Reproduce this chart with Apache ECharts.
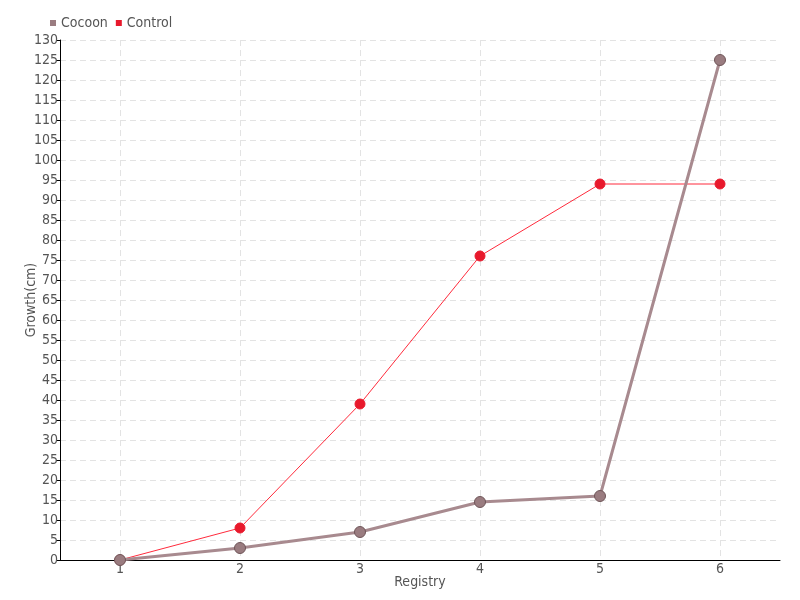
<!DOCTYPE html>
<html><head><meta charset="utf-8">
<script src="https://cdn.jsdelivr.net/npm/echarts@6/dist/echarts.min.js"></script>
<style>html,body{margin:0;padding:0;background:#fff}#c{width:800px;height:600px}</style>
</head><body><div id="c"></div>
<script>
const categories = ['1','2','3','4','5','6'];
const cocoon = [0, 3, 7, 14.5, 16, 125];
const control = [0, 8, 39, 76, 94, 94];
const FONT = '"DejaVu Sans Condensed","Liberation Sans Narrow",sans-serif';
const chart = echarts.init(document.getElementById('c'));
chart.setOption({
  animation: false,
  textStyle: {fontFamily: FONT},
  legend: {
    left: 45, top: 11, itemWidth: 6, itemHeight: 6, itemGap: 8,
    icon: 'rect',
    itemStyle: {borderWidth: 0},
    textStyle: {fontFamily: FONT, fontSize: 14, color: '#555'},
    data: ['Cocoon', 'Control']
  },
  grid: {left: 60, right: 20, top: 40, bottom: 40},
  xAxis: {
    type: 'category', data: categories,
    name: 'Registry', nameLocation: 'middle', nameGap: 15, nameMoveOverlap: false,
    nameTextStyle: {fontFamily: FONT, fontSize: 14, color: '#555'},
    axisLine: {lineStyle: {color: '#000'}},
    axisTick: {alignWithLabel: true, length: 4, lineStyle: {color: '#000'}},
    axisLabel: {fontFamily: FONT, fontSize: 14, color: '#555', margin: 2},
    splitLine: {show: true, alignWithLabel: true, lineStyle: {color: '#e3e3e3', type: [6, 4]}}
  },
  yAxis: {
    type: 'value', min: 0, max: 130, interval: 5,
    name: 'Growth(cm)', nameLocation: 'middle', nameGap: 22, nameMoveOverlap: false,
    nameTextStyle: {fontFamily: FONT, fontSize: 14, color: '#555'},
    axisLine: {show: true, lineStyle: {color: '#000'}},
    axisTick: {show: true, length: 4, lineStyle: {color: '#000'}},
    axisLabel: {fontFamily: FONT, fontSize: 14, color: '#555', margin: 2},
    splitLine: {show: true, lineStyle: {color: '#e3e3e3', type: [6, 4]}}
  },
  series: [
    {
      name: 'Cocoon', type: 'line', data: cocoon,
      symbol: 'circle', symbolSize: 11,
      lineStyle: {color: '#a88a8f', width: 3},
      itemStyle: {color: '#9a7c80', borderColor: '#6f5558', borderWidth: 1},
      z: 3
    },
    {
      name: 'Control', type: 'line', data: control,
      symbol: 'circle', symbolSize: 10,
      lineStyle: {color: '#ff2b3c', width: 1},
      itemStyle: {color: '#e8192c', borderColor: '#e8192c'},
      z: 2
    }
  ]
});
</script></body></html>
